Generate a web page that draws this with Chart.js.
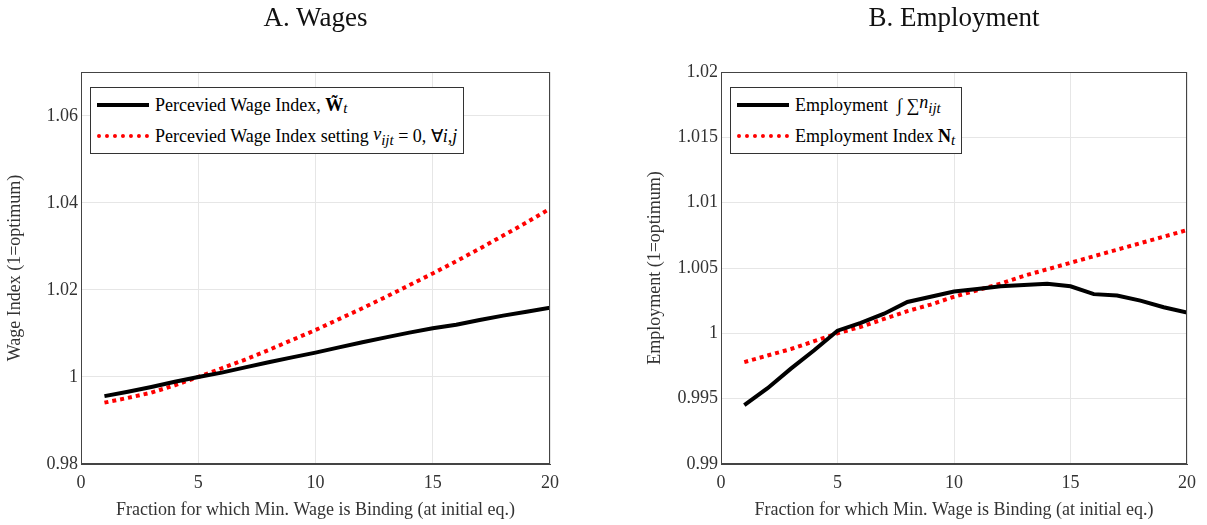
<!DOCTYPE html>
<html><head><meta charset="utf-8">
<script src="https://cdn.jsdelivr.net/npm/chart.js@4"></script>
<style>
body{margin:0;background:#fff;font-family:"Liberation Serif",serif;}
.wrap{position:absolute;top:0;height:525px;}
.title{position:absolute;top:2px;font-size:27px;color:#111;text-align:center;}
.leg{position:absolute;background:#fff;border:1px solid #333;font-size:18px;padding:1px 6px;line-height:26px;}
.leg div{display:flex;align-items:center;}
.sw{display:inline-block;width:52px;height:0;margin-right:6px;}
.solid{border-top:4px solid #000;}
.dot{border-top:4px dotted #f00;}
</style></head><body>
<div class="wrap" style="left:0;width:570px"><canvas id="wages"></canvas></div>
<div class="wrap" style="left:640px;width:567px"><canvas id="emp"></canvas></div>
<div class="title" style="left:81px;width:469px">A. Wages</div>
<div class="title" style="left:721px;width:466px">B. Employment</div>
<div class="leg" style="left:90px;top:87px">
 <div><span class="sw solid"></span>Percevied Wage Index, <b>&nbsp;W̃</b><i><sub>t</sub></i></div>
 <div><span class="sw dot"></span>Percevied Wage Index setting <i>&nbsp;ν<sub>ijt</sub></i>&nbsp;= 0, ∀ <i>i</i>, <i>j</i></div>
</div>
<div class="leg" style="left:730px;top:87px">
 <div><span class="sw solid"></span>Employment&nbsp; ∫ ∑ <i>n<sub>ijt</sub></i></div>
 <div><span class="sw dot"></span>Employment Index <b>&nbsp;N</b><i><sub>t</sub></i></div>
</div>
<script>
const fraction = [1,2,3,4,5,6,7,8,9,10,11,12,13,14,15,16,17,18,19,20];
const wageIndex = [0.9956,0.9966,0.9977,0.9989,1.0,1.001,1.0022,1.0034,1.0045,1.0056,1.0068,1.0080,1.0091,1.0102,1.0112,1.0120,1.0131,1.0141,1.0150,1.0159];
const wageIndexNoNu = [0.9941,0.9952,0.9964,0.9981,1.0,1.002,1.004,1.0062,1.0085,1.0108,1.0133,1.0158,1.0184,1.0211,1.0238,1.0266,1.0295,1.0325,1.0355,1.0387];
const employment = [0.9945,0.9958,0.9973,0.9987,1.0002,1.0008,1.0015,1.0024,1.0028,1.0032,1.0034,1.0036,1.0037,1.0038,1.0036,1.0030,1.0029,1.0025,1.0020,1.0016];
const employmentIndex = [0.9978,0.9983,0.9988,0.9994,1.0,1.0005,1.0011,1.0017,1.0022,1.0028,1.0033,1.0038,1.0044,1.0049,1.0054,1.0059,1.0064,1.0069,1.0074,1.0079];
const xTicks = [0,5,10,15,20];
const wageTicks = [0.98,1,1.02,1.04,1.06];
const empTicks = [0.99,0.995,1,1.005,1.01,1.015,1.02];
const xTitle = 'Fraction for which Min. Wage is Binding (at initial eq.)';

const font = {family:'Liberation Serif', size:18};

const frame = {
  id:'frame',
  afterDraw(chart){
    const a = chart.chartArea, c = chart.ctx;
    c.save(); c.strokeStyle='#444'; c.lineWidth=1;
    c.strokeRect(a.left+0.5, a.top+0.5, a.right-a.left-1, a.bottom-a.top-1);
    c.restore();
  }
};
function pts(ys){ return fraction.map((x,i)=>({x:x,y:ys[i]})); }

function make(id, a, b, ymin, ymax, yticks, ytitle){
  new Chart(document.getElementById(id), {
    type:'line',
    data:{datasets:[
      {data:pts(a), borderColor:'#000', borderWidth:4, pointRadius:0, tension:0},
      {data:pts(b), borderColor:'#f00', borderWidth:4, borderDash:[4,4], pointRadius:0, tension:0}
    ]},
    plugins:[frame],
    options:{
      responsive:false, animation:false,
      layout:{padding:{top:72, right:20, left:0, bottom:0}},
      plugins:{legend:{display:false}, tooltip:{enabled:false}},
      scales:{
        x:{type:'linear', min:0, max:20,
           afterBuildTicks:s=>{s.ticks=xTicks.map(v=>({value:v}));},
           ticks:{font:font, color:'#333', padding:8},
           grid:{color:'#e6e6e6', tickLength:0},
           border:{color:'#444'},
           title:{display:true, text:xTitle, font:font, color:'#333', padding:{top:0}},
           afterFit:s=>{s.height=61;}},
        y:{min:ymin, max:ymax,
           afterBuildTicks:s=>{s.ticks=yticks.map(v=>({value:v}));},
           ticks:{font:font, color:'#333', callback:v=>+v.toFixed(4)+''},
           grid:{color:'#e6e6e6', tickLength:0},
           border:{color:'#444'},
           title:{display:true, text:ytitle, font:font, color:'#333'},
           afterFit:s=>{s.width=81;}}
      }
    }
  });
}
const c1=document.getElementById('wages'); c1.width=570; c1.height=525;
const c2=document.getElementById('emp'); c2.width=567; c2.height=525;
make('wages', wageIndex, wageIndexNoNu, 0.98, 1.0701, wageTicks, 'Wage Index (1=optimum)');
make('emp', employment, employmentIndex, 0.99, 1.02, empTicks, 'Employment (1=optimum)');
</script>
</body></html>
